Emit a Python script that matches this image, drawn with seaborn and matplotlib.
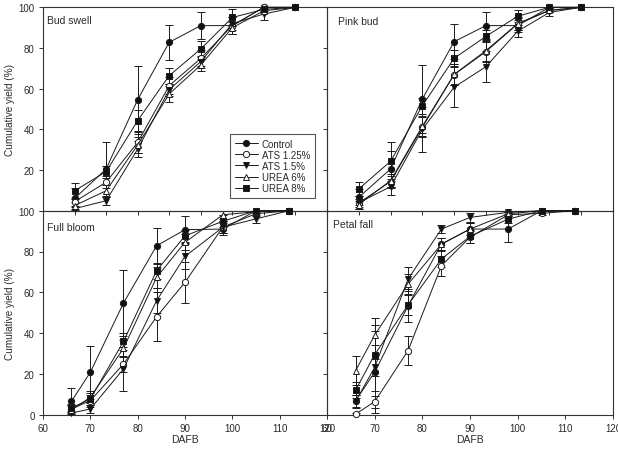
import matplotlib
matplotlib.use("Agg")
import matplotlib.pyplot as plt
from matplotlib.lines import Line2D
import seaborn as sns
import pandas as pd

sns.set_style("ticks")
plt.rcParams['font.family'] = ['Liberation Sans', 'DejaVu Sans']

# ---------------- data ----------------
series = ["Control", "ATS 1.25%", "ATS 1.5%", "UREA 6%", "UREA 8%"]
top_x = [1, 2, 3, 4, 5, 6, 7, 8]
bottom_x = [66, 70, 77, 84, 90, 98, 105, 112]
bottom_ticks = [60, 70, 80, 90, 100, 110, 120]
y_ticks = [0, 20, 40, 60, 80, 100]
panel_titles = ["Bud swell", "Pink bud", "Full bloom", "Petal fall"]

bud_control = [6, 20.5, 54.6, 82.8, 91, 91, 100, 100]
bud_ats125 = [4.4, 14, 33.6, 61.5, 74.9, 91, 100, 100]
bud_ats15 = [1, 4.9, 30.3, 59.5, 73.3, 92, 96.7, 100]
bud_urea6 = [2.5, 9.8, 32.3, 57.4, 71.6, 90, 98.3, 100]
bud_urea8 = [9.8, 19.2, 44.3, 66.4, 79.5, 95, 99, 100]
bud_control_err = [5, 13.5, 16.7, 8.5, 6.5, 4, 0, 0]
bud_ats125_err = [2, 3, 5, 4, 4, 4, 0, 0]
bud_ats15_err = [1, 2, 4, 3, 3, 3, 3, 0]
bud_urea6_err = [2, 3, 4, 4, 3, 3, 1, 0]
bud_urea8_err = [4, 3, 5, 4, 4, 4, 1, 0]

pink_control = [6.6, 20.5, 54.9, 83.1, 91, 91, 100, 100]
pink_ats125 = [3.8, 14.3, 41, 66.9, 78.2, 91.8, 98.5, 100]
pink_ats15 = [4, 11.8, 40, 60.7, 70.8, 88.2, 97.5, 100]
pink_urea6 = [3, 14.8, 41.5, 67, 78.7, 92, 98.5, 100]
pink_urea8 = [10.7, 24.3, 51.6, 74.9, 85.7, 95.6, 100, 100]
pink_control_err = [4, 9, 16.7, 8.7, 6.5, 3, 0, 0]
pink_ats125_err = [2, 3, 5, 5, 5, 3, 1, 0]
pink_ats15_err = [3, 4, 11, 9.8, 7.7, 3, 2, 0]
pink_urea6_err = [2, 3, 5, 5, 5, 3, 1, 0]
pink_urea8_err = [3.6, 9.7, 4, 4, 3, 3, 0, 0]

full_control = [6.5, 20.8, 54.7, 82.8, 90.7, 91, 100, 100]
full_ats125 = [2.8, 6.9, 24.8, 48, 64.9, 92, 98.5, 100]
full_ats15 = [0.8, 2.8, 22.4, 55.9, 77.6, 91.9, 96, 100]
full_urea6 = [2.3, 8.5, 32.5, 67.3, 84.5, 98, 99.5, 100]
full_urea8 = [3.3, 7.7, 35.9, 70.6, 87.7, 94.8, 100, 100]
full_control_err = [6.5, 13, 16.3, 8.7, 6.5, 3, 0, 0]
full_ats125_err = [2, 3, 4, 12, 10, 3, 1, 0]
full_ats15_err = [0.8, 2, 11, 6, 6, 3, 2, 0]
full_urea6_err = [2, 3, 4, 5, 4, 2, 0.5, 0]
full_urea8_err = [2, 3, 4, 4, 3, 3, 0, 0]

petal_control = [6.9, 20.8, 53.4, 83.7, 91, 91, 100, 100]
petal_ats125 = [0.3, 6.4, 31.4, 73, 87, 98, 98.7, 100]
petal_ats15 = [6.5, 23.2, 66.5, 91, 96.7, 99.2, 100, 100]
petal_urea6 = [21.6, 39, 64, 83.5, 91, 98.5, 100, 100]
petal_urea8 = [12.1, 29.4, 53.8, 76.3, 87.4, 95.9, 100, 100]
petal_control_err = [3, 20, 8, 3, 3, 6.5, 0, 0]
petal_ats125_err = [0.3, 3, 7, 5, 3, 1.5, 1, 0]
petal_ats15_err = [3, 4, 6, 2, 2, 0.8, 0, 0]
petal_urea6_err = [7, 5, 5, 3, 3, 1, 0, 0]
petal_urea8_err = [4, 18, 5, 4, 3, 2, 0, 0]

panels = [
    (top_x, [bud_control, bud_ats125, bud_ats15, bud_urea6, bud_urea8],
     [bud_control_err, bud_ats125_err, bud_ats15_err, bud_urea6_err, bud_urea8_err]),
    (top_x, [pink_control, pink_ats125, pink_ats15, pink_urea6, pink_urea8],
     [pink_control_err, pink_ats125_err, pink_ats15_err, pink_urea6_err, pink_urea8_err]),
    (bottom_x, [full_control, full_ats125, full_ats15, full_urea6, full_urea8],
     [full_control_err, full_ats125_err, full_ats15_err, full_urea6_err, full_urea8_err]),
    (bottom_x, [petal_control, petal_ats125, petal_ats15, petal_urea6, petal_urea8],
     [petal_control_err, petal_ats125_err, petal_ats15_err, petal_urea6_err, petal_urea8_err]),
]

# ---------------- styles ----------------
markers = ["o", "o", "v", "^", "s"]
facecolors = ["#111111", "white", "#111111", "white", "#111111"]
ink = "#1a1a1a"
text_c = "#2a2a2a"

fig = plt.figure(figsize=(6.18, 4.52), dpi=100)
L, W1 = 43 / 618, 284 / 618
R, W2 = 327 / 618, 286 / 618
T, H1 = 1 - 211.7 / 452, 203.4 / 452
B, H2 = 1 - 415.7 / 452, 204 / 452
rects = [(L, T, W1, H1), (R, T, W2, H1), (L, B, W1, H2), (R, B, W2, H2)]
title_pos = [(0.015, 0.94), (0.037, 0.935), (0.015, 0.918), (0.022, 0.935)]

axes = []
for i, (rect, (xs, ys, errs)) in enumerate(zip(rects, panels)):
    ax = fig.add_axes(rect)
    axes.append(ax)
    for name, y, e, m, fc in zip(series, ys, errs, markers, facecolors):
        df = pd.DataFrame({"x": xs, "y": y, "e": e})
        ax.errorbar(df["x"], df["y"], yerr=df["e"], fmt="none", ecolor=ink,
                    elinewidth=0.7, capsize=2.8, capthick=0.7, clip_on=False, zorder=2)
        sns.lineplot(data=df, x="x", y="y", ax=ax, color=ink, linewidth=0.7,
                     marker=m, markersize=5 if m in ("v", "^") else 4.5,
                     markerfacecolor=fc, markeredgecolor=ink, markeredgewidth=0.7,
                     errorbar=None, sort=False, estimator=None, legend=False,
                     clip_on=False, zorder=3)
    ax.set_ylim(0, 100)
    ax.set_yticks(y_ticks)
    if i < 2:
        ax.set_xlim(0, 9)
        ax.set_xticks(top_x)
        ax.set_xticklabels([])
    else:
        ax.set_xlim(60, 120)
        ax.set_xticks(bottom_ticks)
        ax.set_xticklabels([str(t) for t in bottom_ticks])
    if i % 2 == 1:
        ax.set_yticklabels([])
        ax.set_ylabel("")
    else:
        labels = [str(t) for t in y_ticks]
        if i == 0:
            labels[0] = ""
        ax.set_yticklabels(labels)
        ax.set_ylabel("Cumulative yield (%)", fontsize=7.2, color=text_c)
        ax.yaxis.set_label_coords(-0.10, 0.5)
    if i >= 2:
        ax.set_xlabel("DAFB", fontsize=7.5, color=text_c)
        ax.xaxis.set_label_coords(0.5, -0.095)
    else:
        ax.set_xlabel("")
    ax.tick_params(direction="out", length=3, width=0.7, colors="#333333",
                   labelsize=7, labelcolor=text_c, pad=3)
    for sp in ax.spines.values():
        sp.set_visible(True)
        sp.set_color("#333333")
        sp.set_linewidth(0.8)
    ax.patch.set_alpha(0)
    tx, ty = title_pos[i]
    ax.text(tx, ty, panel_titles[i], transform=ax.transAxes, fontsize=7.5,
            color=text_c, ha="left", va="center")

handles = [Line2D([], [], color=ink, linewidth=0.7, marker=m,
                  markersize=5 if m in ("v", "^") else 4.5,
                  markerfacecolor=fc, markeredgecolor=ink, markeredgewidth=0.7)
           for m, fc in zip(markers, facecolors)]
leg = axes[0].legend(handles, series, loc="lower right",
                     bbox_to_anchor=(0.958, 0.062), borderaxespad=0,
                     fontsize=7, labelspacing=0.12, handlelength=2.4,
                     handletextpad=0.4, borderpad=0.5, frameon=True,
                     fancybox=False, edgecolor="#555555", framealpha=1)
leg.get_frame().set_linewidth(0.8)
for t in leg.get_texts():
    t.set_color(text_c)
leg.set_zorder(10)

fig.savefig("out.png", dpi=100)
